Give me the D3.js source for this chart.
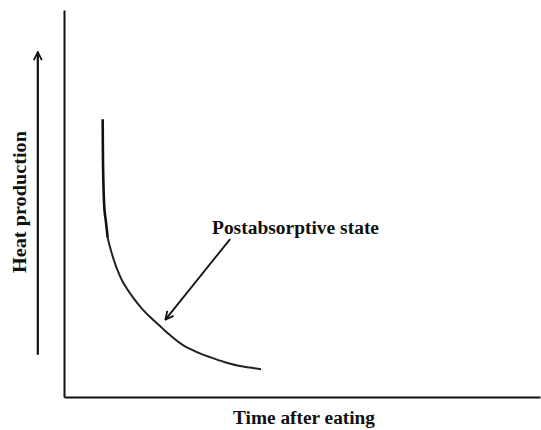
<!DOCTYPE html>
<html><head><meta charset="utf-8">
<script src="https://cdn.jsdelivr.net/npm/d3@7"></script>
<style>body{margin:0;background:#fff}svg{display:block}text{font-family:"Liberation Serif",serif;fill:#111}</style>
</head><body><svg id="c" width="541" height="430"></svg>
<script>
// Data (time after eating vs heat production, arbitrary units 0-100)
const curveTime = [8.13, 8.26, 8.51, 8.82, 9.18, 10.02, 11.07, 12.46, 14.56, 16.60, 18.49, 20.38, 22.27, 25.00, 27.94, 30.67, 33.82, 36.97, 39.08, 41.39];
const curveHeat = [71.8, 56.1, 48.3, 45.2, 41.1, 37.2, 33.3, 29.5, 25.6, 22.5, 20.2, 18.1, 16.0, 13.4, 11.6, 10.3, 9.0, 8.0, 7.6, 7.2];
const xLabel = "Time after eating";
const yLabel = "Heat production";
const annotation = "Postabsorptive state";
const annotationArrow = [[34.9, 40.8], [21.3, 20.0]]; // [time, heat] from -> to
const yArrow = [[-5.5, 10.9], [-5.5, 89.1]];

const svg = d3.select("#c");
const x = d3.scaleLinear().domain([0, 100]).range([64, 540]);
const y = d3.scaleLinear().domain([0, 100]).range([397, 10]);

svg.append("defs").append("marker")
  .attr("id","ah").attr("viewBox","0 0 10 10").attr("refX",9).attr("refY",5)
  .attr("markerWidth",10).attr("markerHeight",10).attr("markerUnits","userSpaceOnUse")
  .attr("orient","auto")
  .append("path").attr("d","M1,1 L9,5 L1,9").attr("fill","none").attr("stroke","#111").attr("stroke-width",1.8);

// axes
svg.append("g").attr("transform",`translate(${x(0)},0)`)
  .call(d3.axisLeft(y).tickValues([]).tickSizeOuter(0))
  .select(".domain").attr("stroke","#111").attr("stroke-width",2);
svg.append("g").attr("transform",`translate(0,${y(0)})`)
  .call(d3.axisBottom(x).tickValues([]).tickSizeOuter(0))
  .select(".domain").attr("stroke","#111").attr("stroke-width",2);

// curve
const pts = curveTime.map((t,i)=>[t, curveHeat[i]]);
const line = d3.line().x(d=>x(d[0])).y(d=>y(d[1])).curve(d3.curveCatmullRom.alpha(0.5));
svg.append("path").attr("d", line(pts.slice(0,5))).attr("fill","none").attr("stroke","#111").attr("stroke-width",2.6);
svg.append("path").attr("d", line(pts.slice(4))).attr("fill","none").attr("stroke","#222").attr("stroke-width",2);

// annotation arrow
svg.append("line")
  .attr("x1",x(annotationArrow[0][0])).attr("y1",y(annotationArrow[0][1]))
  .attr("x2",x(annotationArrow[1][0])).attr("y2",y(annotationArrow[1][1]))
  .attr("stroke","#111").attr("stroke-width",1.8).attr("marker-end","url(#ah)");
svg.append("text").attr("x",212).attr("y",234).attr("font-size",18).attr("font-weight","bold")
  .attr("textLength",167).attr("lengthAdjust","spacingAndGlyphs").text(annotation);

// y arrow
svg.append("line")
  .attr("x1",x(yArrow[0][0])).attr("y1",y(yArrow[0][1]))
  .attr("x2",x(yArrow[1][0])).attr("y2",y(yArrow[1][1]))
  .attr("stroke","#111").attr("stroke-width",2.2).attr("marker-end","url(#ah)");

svg.append("text").attr("x",233).attr("y",424).attr("font-size",18).attr("font-weight","bold")
  .attr("textLength",142).attr("lengthAdjust","spacingAndGlyphs").text(xLabel);
svg.append("text").attr("transform","translate(26,202) rotate(-90)").attr("text-anchor","middle")
  .attr("font-size",18).attr("font-weight","bold")
  .attr("textLength",142).attr("lengthAdjust","spacingAndGlyphs").text(yLabel);
</script></body></html>
